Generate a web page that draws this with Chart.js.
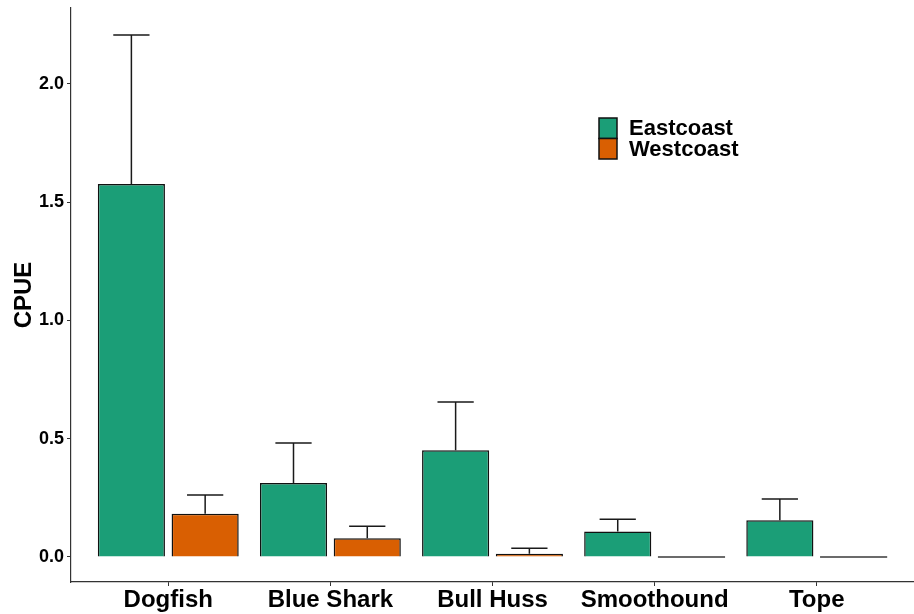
<!DOCTYPE html>
<html>
<head>
<meta charset="utf-8">
<script src="https://cdn.jsdelivr.net/npm/chart.js@4/dist/chart.umd.min.js"></script>
<style>
  html, body { margin: 0; padding: 0; background: #ffffff; }
  #wrap { width: 914px; height: 614px; }
</style>
</head>
<body>
<div id="wrap"><canvas id="cpue" width="914" height="614"></canvas></div>
<script>
// Shark species sampled
const categories = ['Dogfish', 'Blue Shark', 'Bull Huss', 'Smoothound', 'Tope'];

// Mean catch per unit effort by coast
const eastMean = [1.576, 0.312, 0.451, 0.107, 0.155];
const westMean = [0.182, 0.079, 0.013, 0.0, 0.0];

// Upper error (standard error) for each mean
const eastErr = [0.630, 0.169, 0.204, 0.052, 0.090];
const westErr = [0.080, 0.051, 0.024, 0.0, 0.0];

// Y axis tick values
const yTicks = [0, 0.5, 1.0, 1.5, 2.0];

const seriesNames = ['Eastcoast', 'Westcoast'];
const seriesColors = ['#1b9e77', '#d95f02'];
const seriesErrors = [eastErr, westErr];

const FONT = "'Liberation Sans', Arial, sans-serif";
const AXIS_COLOR = '#333333';

function toPoints(values) {
  return values.map((v, i) => ({ x: i, y: v }));
}

// Upper-only error bars plus outlines for zero-height bars
const errorBars = {
  id: 'errorBars',
  afterDatasetsDraw(chart) {
    const ctx = chart.ctx;
    const yScale = chart.scales.y;
    chart.data.datasets.forEach((ds, di) => {
      const meta = chart.getDatasetMeta(di);
      const errs = seriesErrors[di];
      meta.data.forEach((bar, i) => {
        const v = ds.data[i].y;
        const e = errs[i];
        ctx.save();
        if (v === 0) {
          ctx.strokeStyle = '#3a3a3a';
          ctx.lineWidth = 1.5;
          ctx.beginPath();
          ctx.moveTo(bar.x - bar.width / 2, bar.y);
          ctx.lineTo(bar.x + bar.width / 2, bar.y);
          ctx.stroke();
        }
        if (e > 0) {
          const yTop = yScale.getPixelForValue(v + e);
          const cap = bar.width * 0.54;
          ctx.strokeStyle = '#1a1a1a';
          ctx.lineWidth = 1.5;
          ctx.beginPath();
          ctx.moveTo(bar.x, bar.y);
          ctx.lineTo(bar.x, yTop);
          ctx.moveTo(bar.x - cap / 2, yTop);
          ctx.lineTo(bar.x + cap / 2, yTop);
          ctx.stroke();
        }
        ctx.restore();
      });
    });
  }
};

// Key with stacked colour swatches
const keyBox = {
  id: 'keyBox',
  afterDraw(chart) {
    const ctx = chart.ctx;
    const x0 = 599, y0 = 118, w = 18, h = 20.5;
    ctx.save();
    chart.data.datasets.forEach((ds, i) => {
      const y = y0 + i * h;
      ctx.fillStyle = ds.backgroundColor;
      ctx.fillRect(x0, y, w, h);
      ctx.strokeStyle = '#111111';
      ctx.lineWidth = 1.5;
      ctx.strokeRect(x0, y, w, h);
      ctx.fillStyle = '#000000';
      ctx.font = 'bold 22px ' + FONT;
      ctx.textBaseline = 'middle';
      ctx.textAlign = 'left';
      ctx.fillText(ds.label, 629, y + h / 2 + 1);
    });
    ctx.restore();
  }
};

new Chart(document.getElementById('cpue'), {
  type: 'bar',
  data: {
    datasets: [
      {
        label: seriesNames[0],
        data: toPoints(eastMean),
        backgroundColor: seriesColors[0],
        borderColor: '#111111',
        borderWidth: 1.5,
        borderSkipped: 'bottom'
      },
      {
        label: seriesNames[1],
        data: toPoints(westMean),
        backgroundColor: seriesColors[1],
        borderColor: '#111111',
        borderWidth: 1.5,
        borderSkipped: 'bottom'
      }
    ]
  },
  options: {
    responsive: false,
    animation: false,
    events: [],
    categoryPercentage: 0.91,
    barPercentage: 0.91,
    layout: { padding: { top: 8, right: 0, bottom: 0, left: 0 } },
    plugins: {
      legend: { display: false },
      tooltip: { enabled: false },
      title: { display: false }
    },
    scales: {
      x: {
        type: 'linear',
        min: -0.6,
        max: 4.6,
        offset: false,
        afterBuildTicks(scale) {
          scale.ticks = categories.map((_, i) => ({ value: i }));
        },
        afterFit(scale) {
          scale.height = 32;
          scale.paddingLeft = 0;
          scale.paddingRight = 0;
        },
        grid: {
          display: true,
          offset: false,
          drawOnChartArea: false,
          drawTicks: true,
          tickLength: 4,
          color: AXIS_COLOR,
          lineWidth: 1
        },
        border: { display: true, color: AXIS_COLOR, width: 1.2 },
        ticks: {
          autoSkip: false,
          maxRotation: 0,
          padding: 0,
          color: '#000000',
          font: { family: FONT, size: 24, weight: 'bold' },
          callback: (v) => categories[v]
        }
      },
      y: {
        min: -0.106,
        max: 2.32,
        afterBuildTicks(scale) {
          scale.ticks = yTicks.map(v => ({ value: v }));
        },
        afterFit(scale) {
          scale.width = 71;
          scale.paddingTop = 0;
          scale.paddingBottom = 0;
        },
        grid: {
          display: true,
          drawOnChartArea: false,
          drawTicks: true,
          tickLength: 4,
          color: AXIS_COLOR,
          lineWidth: 1
        },
        border: { display: true, color: AXIS_COLOR, width: 1.2 },
        ticks: {
          padding: 3,
          color: '#000000',
          font: { family: FONT, size: 18, weight: 'bold' },
          callback: (v) => Number(v).toFixed(1)
        },
        title: {
          display: true,
          text: 'CPUE',
          color: '#000000',
          padding: { top: 10, bottom: 0 },
          font: { family: FONT, size: 24, weight: 'bold' }
        }
      }
    }
  },
  plugins: [errorBars, keyBox]
});
</script>
</body>
</html>
